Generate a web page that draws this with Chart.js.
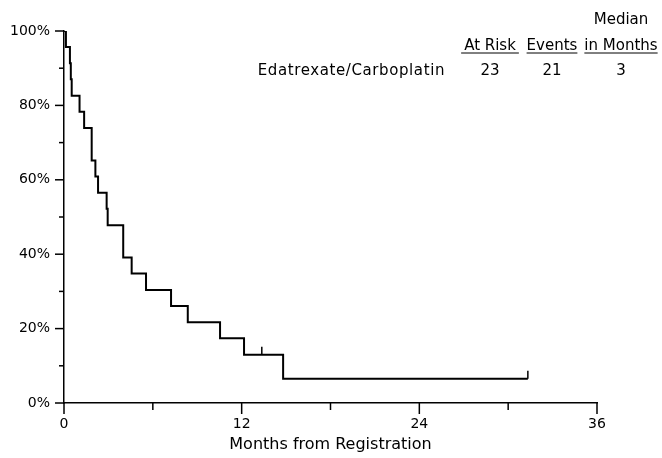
<!DOCTYPE html>
<html>
<head>
<meta charset="utf-8">
<script src="https://cdn.jsdelivr.net/npm/chart.js@4.4.1/dist/chart.umd.min.js"></script>
<style>
  body { margin: 0; background: #fff; }
  #wrap { width: 662px; height: 458px; }
</style>
</head>
<body>
<div id="wrap"><canvas id="kmChart" width="662" height="458"></canvas></div>
<script>
// Kaplan-Meier steps: month of each step and survival (%) after it
const stepMonths = [0, 0.13, 0.40, 0.46, 0.52, 1.05, 1.36, 1.87, 1.87, 2.12, 2.30, 2.88, 2.95, 4.00, 4.00, 4.57, 5.54, 7.23, 8.36, 10.54, 12.16, 14.80, 31.33];
const survivalPct = [100, 95.7, 91.3, 87.0, 82.6, 78.3, 73.9, 69.6, 65.2, 60.9, 56.5, 52.2, 47.8, 43.5, 39.1, 34.8, 30.4, 26.1, 21.7, 17.4, 13.0, 6.5, 6.5];

// censored observations
const censorMonths = [13.36, 31.33];
const censorPct = [13.0, 6.5];

// summary table
const groupNames = ['Edatrexate/Carboplatin'];
const atRisk = [23];
const eventCounts = [21];
const medianMonths = [3];

const xTickStep = 6;
const xLabelEvery = 12;
const yTickStep = 10;
const yLabelEvery = 20;

const FONT = "'DejaVu Sans', sans-serif";

// tick marks drawn outside the axes, long ones where a label sits
const tickMarks = {
    id: 'tickMarks',
    afterDraw(chart) {
        const ctx = chart.ctx;
        const xs = chart.scales.x, ys = chart.scales.y;
        const area = chart.chartArea;
        ctx.save();
        ctx.strokeStyle = '#000';
        ctx.lineWidth = 1.5;
        xs.ticks.forEach(t => {
            const px = xs.getPixelForValue(t.value);
            const len = t.value % xLabelEvery === 0 ? 11 : 7;
            ctx.beginPath();
            ctx.moveTo(px, area.bottom);
            ctx.lineTo(px, area.bottom + len);
            ctx.stroke();
        });
        ys.ticks.forEach(t => {
            const py = ys.getPixelForValue(t.value);
            const len = t.value % yLabelEvery === 0 ? 9 : 5;
            ctx.beginPath();
            ctx.moveTo(area.left, py);
            ctx.lineTo(area.left - len, py);
            ctx.stroke();
        });
        // censor marks
        censorMonths.forEach((m, i) => {
            const px = xs.getPixelForValue(m);
            const py = ys.getPixelForValue(censorPct[i]);
            ctx.beginPath();
            ctx.moveTo(px, py);
            ctx.lineTo(px, py - 8);
            ctx.stroke();
        });
        ctx.restore();
    }
};

// header table top right
const summaryTable = {
    id: 'summaryTable',
    afterDraw(chart) {
        const ctx = chart.ctx;
        ctx.save();
        ctx.fillStyle = '#000';
        ctx.strokeStyle = '#000';
        ctx.lineWidth = 1;
        ctx.font = '15px ' + FONT;
        ctx.textBaseline = 'alphabetic';
        ctx.textAlign = 'center';
        const cols = [490, 552, 621];
        ctx.fillText('Median', cols[2], 24);
        const heads = ['At Risk', 'Events', 'in Months'];
        heads.forEach((h, i) => {
            ctx.fillText(h, cols[i], 50);
            const w = ctx.measureText(h).width;
            ctx.beginPath();
            ctx.moveTo(cols[i] - w / 2 - (i === 0 ? 3 : 0), 53);
            ctx.lineTo(cols[i] + w / 2 + (i === 0 ? 3 : 0), 53);
            ctx.stroke();
        });
        groupNames.forEach((g, r) => {
            const y = 75 + r * 24;
            ctx.textAlign = 'right';
            ctx.letterSpacing = '0.6px';
            ctx.fillText(g, 445, y);
            ctx.letterSpacing = '0px';
            ctx.textAlign = 'center';
            ctx.fillText(String(atRisk[r]), cols[0], y);
            ctx.fillText(String(eventCounts[r]), cols[1], y);
            ctx.fillText(String(medianMonths[r]), cols[2], y);
        });
        ctx.restore();
    }
};

const ctx = document.getElementById('kmChart').getContext('2d');
const kmChart = new Chart(ctx, {
    type: 'line',
    data: {
        datasets: [{
            label: groupNames[0],
            data: stepMonths.map((m, i) => ({ x: m, y: survivalPct[i] })),
            borderColor: '#000',
            borderWidth: 2,
            pointRadius: 0,
            stepped: true,
            fill: false,
            tension: 0
        }]
    },
    options: {
        responsive: false,
        animation: false,
        layout: {
            padding: { top: 31, right: 65, left: 0, bottom: 0 }
        },
        scales: {
            x: {
                type: 'linear',
                min: 0,
                max: 36,
                afterFit: s => { s.height = 55; },
                grid: { display: false, drawTicks: false },
                border: { display: true, color: '#000', width: 1.5 },
                ticks: {
                    stepSize: xTickStep,
                    autoSkip: false,
                    maxRotation: 0,
                    padding: 13,
                    color: '#000',
                    font: { family: FONT, size: 14 },
                    callback: v => (v % xLabelEvery === 0 ? String(v) : '')
                },
                title: {
                    display: true,
                    text: 'Months from Registration',
                    color: '#000',
                    font: { family: FONT, size: 16 },
                    padding: { top: 0, bottom: 4 }
                }
            },
            y: {
                min: 0,
                max: 100,
                afterFit: s => { s.width = 64; },
                grid: { display: false, drawTicks: false },
                border: { display: true, color: '#000', width: 1.5 },
                ticks: {
                    stepSize: yTickStep,
                    autoSkip: false,
                    padding: 14,
                    color: '#000',
                    font: { family: FONT, size: 14 },
                    callback: v => (v % yLabelEvery === 0 ? v + '%' : '')
                }
            }
        },
        plugins: {
            legend: { display: false },
            tooltip: { enabled: false }
        }
    },
    plugins: [tickMarks, summaryTable]
});
</script>
</body>
</html>
